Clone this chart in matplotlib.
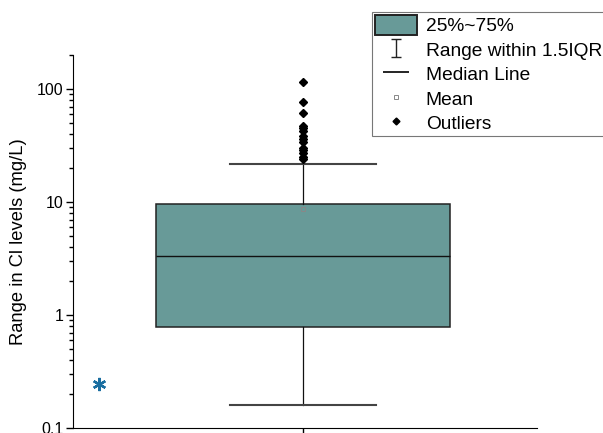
import numpy as np
import matplotlib
matplotlib.use('Agg')
import matplotlib.pyplot as plt
from matplotlib.lines import Line2D
from matplotlib.patches import Patch
from matplotlib.path import Path

plt.rcParams['font.family'] = ['Liberation Sans', 'DejaVu Sans']

# ---------- dados ----------
q1 = 0.78
mediana = 3.35
q3 = 9.6
whisk_lo = 0.16
whisk_hi = 21.7
media = 8.7
outliers = [115, 76.5, 61, 47, 45, 42.5, 38.4, 36.1, 34, 30, 28.8, 27.1, 25, 24]
marca_x, marca_y = 0.56, 0.245   # asterisco azul

ylabel = 'Range in Cl levels (mg/L)'
legenda_txt = ['25%~75%', 'Range within 1.5IQR', 'Median Line', 'Mean', 'Outliers']

cor_caixa = '#689a98'
cor_ast = '#1a6ea0'

fig = plt.figure(figsize=(6.03, 4.33), dpi=100)
ax = fig.add_axes([73/603, 5/433, 464/603, 373/433])

stats = [dict(q1=q1, med=mediana, q3=q3, whislo=whisk_lo, whishi=whisk_hi,
              mean=media, fliers=outliers)]
ax.bxp(stats, positions=[1], widths=0.634, patch_artist=True, showmeans=True,
       boxprops=dict(facecolor=cor_caixa, edgecolor='#222222', linewidth=1.1),
       medianprops=dict(color='#111111', linewidth=1.0),
       whiskerprops=dict(color='#111111', linewidth=0.9),
       capprops=dict(color='#444444', linewidth=1.5),
       capwidths=0.315,
       meanprops=dict(marker='s', markersize=3.5, markerfacecolor='none',
                      markeredgecolor='#888888', markeredgewidth=0.7),
       flierprops=dict(marker='D', markersize=4, markerfacecolor='black',
                       markeredgecolor='black'))

ax.plot([marca_x], [marca_y], linestyle='none', marker=(6, 2, 0),
        markersize=9.5, markeredgewidth=1.7, color=cor_ast)

ax.set_yscale('log')
ax.set_ylim(0.1, 200)
ax.set_xlim(0.504, 1.504)
ax.set_xticks([1])
ax.set_xticklabels([''])
ax.set_yticks([0.1, 1, 10, 100])
ax.set_yticklabels(['0.1', '1', '10', '100'])
ax.tick_params(axis='both', which='major', direction='out', length=5, width=1,
               labelsize=11.5, pad=2)
ax.tick_params(axis='y', which='minor', direction='out', length=3, width=1)
ax.spines['top'].set_visible(False)
ax.spines['right'].set_visible(False)
ax.set_ylabel(ylabel, fontsize=13.2, labelpad=7)

# ---------- legenda ----------
i_path = Path([(-0.5, 1), (0.5, 1), (0, 1), (0, -1), (-0.5, -1), (0.5, -1)],
              [Path.MOVETO, Path.LINETO, Path.MOVETO, Path.LINETO, Path.MOVETO, Path.LINETO])
handles = [
    Patch(facecolor=cor_caixa, edgecolor='#222222', linewidth=1.4),
    Line2D([], [], linestyle='none', marker=i_path, markersize=13,
           markeredgecolor='#222222', markeredgewidth=1.0, markerfacecolor='none'),
    Line2D([], [], linestyle='none', marker='_', markersize=19,
           markeredgecolor='black', markeredgewidth=1.2),
    Line2D([], [], linestyle='none', marker='s', markersize=3.5,
           markerfacecolor='none', markeredgecolor='#888888', markeredgewidth=0.7),
    Line2D([], [], linestyle='none', marker='D', markersize=3.5, color='black'),
]
leg = fig.legend(handles, legenda_txt, loc='upper left',
                 bbox_to_anchor=(372/603, 1 - 12/433), fontsize=13.8,
                 frameon=True, fancybox=False, edgecolor='#555555',
                 handlelength=2.2, handleheight=1.2, handletextpad=0.45,
                 labelspacing=0.22, borderpad=0.15, borderaxespad=0)
leg.get_frame().set_linewidth(0.8)

fig.savefig('out.png', dpi=100)
